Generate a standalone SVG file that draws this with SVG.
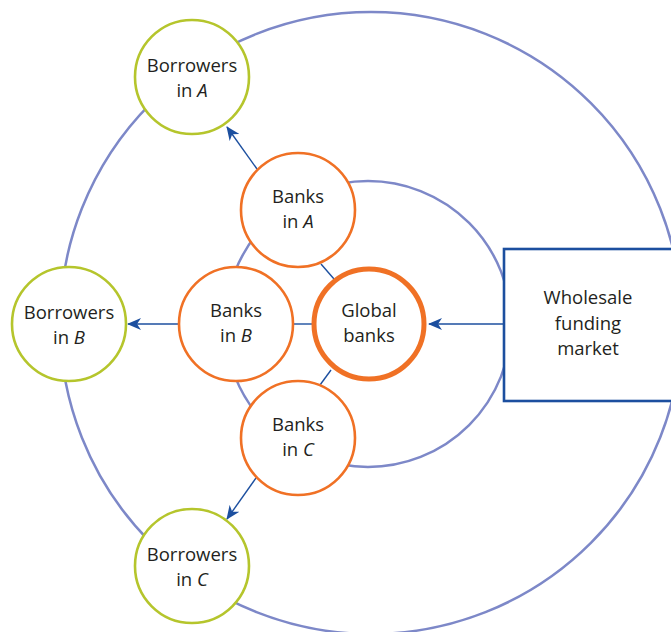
<svg xmlns="http://www.w3.org/2000/svg" width="671" height="632" viewBox="0 0 671 632">
<style>
.ring{fill:none;stroke:#7d88c8;stroke-width:2.5}
.bank{fill:#fff;stroke:#f07125;stroke-width:2.6}
.glob{fill:#fff;stroke:#f07125;stroke-width:5}
.borr{fill:#fff;stroke:#b5c52c;stroke-width:2.6}
.box{fill:#fff;stroke:#1c4f9f;stroke-width:2.6}
.conn{stroke:#1c4f9f;stroke-width:1.4;fill:none}
text{font-family:"Open Sans","Liberation Sans",sans-serif;font-size:18.5px;fill:#231f20;text-anchor:middle}
.it{font-style:italic}
</style>
<defs>
<marker id="ah" markerUnits="userSpaceOnUse" markerWidth="14" markerHeight="12" viewBox="0 0 14 12" refX="13" refY="6" orient="auto">
<path d="M0,0 L14,6 L0,12 L4,6 z" fill="#1c4f9f"/>
</marker>
</defs>
<g id="rings">
<circle class="ring" cx="371" cy="323" r="311"/>
<circle class="ring" cx="368" cy="324" r="143"/>
</g>
<g id="connectors">
<line class="conn" x1="504" y1="324" x2="429" y2="324" marker-end="url(#ah)"/>
<line class="conn" x1="179" y1="324" x2="128" y2="324" marker-end="url(#ah)"/>
<line class="conn" x1="257" y1="169" x2="227" y2="127" marker-end="url(#ah)"/>
<line class="conn" x1="256" y1="478" x2="227" y2="519" marker-end="url(#ah)"/>
<line class="conn" x1="293" y1="324" x2="314" y2="324"/>
<line class="conn" x1="321" y1="264" x2="334" y2="279"/>
<line class="conn" x1="331" y1="370" x2="320" y2="385"/>
</g>
<g id="wholesale">
<rect class="box" x="504" y="249" width="180" height="152"/>
<text x="588" y="304">Wholesale</text>
<text x="588" y="330">funding</text>
<text x="588" y="355">market</text>
</g>
<g id="global-banks">
<circle class="glob" cx="369" cy="324" r="55"/>
<text x="369" y="317">Global</text>
<text x="369" y="342">banks</text>
</g>
<g id="banks-a">
<circle class="bank" cx="298" cy="210" r="57"/>
<text x="298" y="203">Banks</text>
<text x="298" y="228">in <tspan class="it">A</tspan></text>
</g>
<g id="banks-b">
<circle class="bank" cx="236" cy="324" r="57"/>
<text x="236" y="317">Banks</text>
<text x="236" y="342">in <tspan class="it">B</tspan></text>
</g>
<g id="banks-c">
<circle class="bank" cx="298" cy="438" r="57"/>
<text x="298" y="431">Banks</text>
<text x="298" y="456">in <tspan class="it">C</tspan></text>
</g>
<g id="borrowers-a">
<circle class="borr" cx="192" cy="77" r="57"/>
<text x="192" y="72">Borrowers</text>
<text x="192" y="97">in <tspan class="it">A</tspan></text>
</g>
<g id="borrowers-b">
<circle class="borr" cx="69" cy="324" r="57"/>
<text x="69" y="319">Borrowers</text>
<text x="69" y="344">in <tspan class="it">B</tspan></text>
</g>
<g id="borrowers-c">
<circle class="borr" cx="192" cy="566" r="57"/>
<text x="192" y="561">Borrowers</text>
<text x="192" y="586">in <tspan class="it">C</tspan></text>
</g>
</svg>
